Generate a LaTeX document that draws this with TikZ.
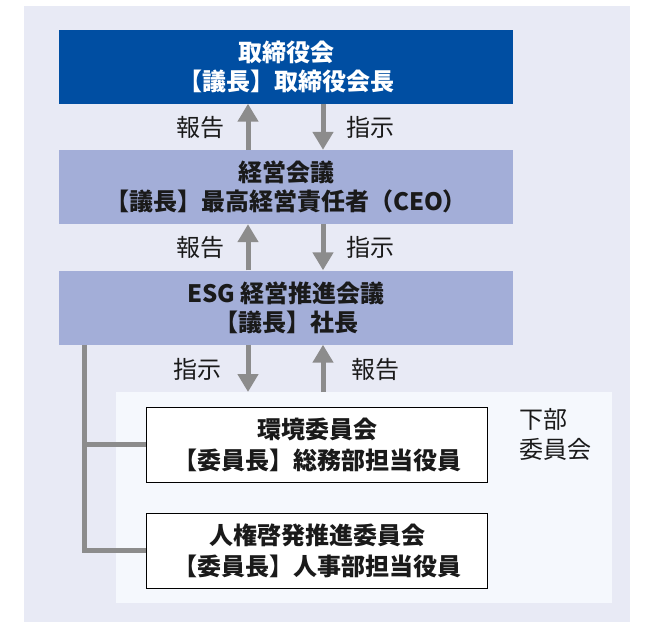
\documentclass[tikz,border=0pt]{standalone}
\usepackage{fontspec}
\setmainfont{Noto Sans CJK JP}
\usetikzlibrary{arrows.meta}
\definecolor{bgc}{HTML}{E8EAF5}
\definecolor{subc}{HTML}{F5F8FD}
\definecolor{dblue}{HTML}{004EA2}
\definecolor{lblue}{HTML}{A3AED8}
\definecolor{gline}{HTML}{8C8C8C}
\definecolor{txt}{HTML}{1A1A1A}
\begin{document}
\begin{tikzpicture}[x=1pt,y=-1pt,
  box/.style={minimum width=454pt, minimum height=74pt, inner sep=0pt, align=center,
    font=\fontsize{24}{29}\selectfont\bfseries},
  subbox/.style={draw=black, line width=0.8pt, fill=white, minimum width=341pt, minimum height=75pt,
    inner sep=0pt, align=center, font=\fontsize{24}{31}\selectfont\bfseries, text=txt},
  arr/.style={draw=gline, line width=5pt, -{Triangle[width=20pt,length=18pt]}},
  conn/.style={draw=gline, line width=5pt, line join=miter},
  lab/.style={font=\fontsize{24}{29}\selectfont, text=txt, inner sep=0pt}]
\useasboundingbox (0,0) rectangle (653,625);
\fill[white] (0,0) rectangle (653,625);
\fill[bgc] (24,6) rectangle (630,622);
\node[fill=subc, minimum width=496pt, minimum height=211pt, inner sep=0pt, anchor=north west] (subarea) at (116,392) {};

\node[box, fill=dblue, text=white] (b1) at (286,66.5) {取締役会\\【議長】取締役会長};
\node[box, fill=lblue, text=txt] (b2) at (286,187) {経営会議\\【議長】最高経営責任者（CEO）};
\node[box, fill=lblue, text=txt] (b3) at (286,307.5) {ESG 経営推進会議\\【議長】社長};

\node[subbox] (s1) at (317,444.5) {環境委員会\\【委員長】総務部担当役員};
\node[subbox] (s2) at (317,550.5) {人権啓発推進委員会\\【委員長】人事部担当役員};

\draw[arr] ([xshift=-38pt]b2.north) -- ([xshift=-38pt]b1.south);
\draw[arr] ([xshift=37pt]b1.south) -- ([xshift=37pt]b2.north);
\draw[arr] ([xshift=-38pt]b3.north) -- ([xshift=-38pt]b2.south);
\draw[arr] ([xshift=37pt]b2.south) -- ([xshift=37pt]b3.north);
\draw[arr] ([xshift=-38pt]b3.south) -- ([xshift=-38pt]b3.south |- subarea.north);
\draw[arr] ([xshift=37pt]b3.south |- subarea.north) -- ([xshift=37pt]b3.south);

\node[lab] (l1) at (200,127) {報告};
\node[lab] (l2) at (370,127) {指示};
\node[lab] (l3) at (200,247) {報告};
\node[lab] (l4) at (370,247) {指示};
\node[lab] (l5) at (197,369) {指示};
\node[lab] (l6) at (375,369) {報告};

\node[lab, anchor=north west, align=left, font=\fontsize{24}{30.5}\selectfont] (kabu) at (519,408) {下部\\委員会};

\coordinate (trunk) at (84.5,344.5);
\draw[conn] (trunk) |- (s2.west);
\draw[conn] (trunk |- s1.west) -- (s1.west);
\end{tikzpicture}
\end{document}
